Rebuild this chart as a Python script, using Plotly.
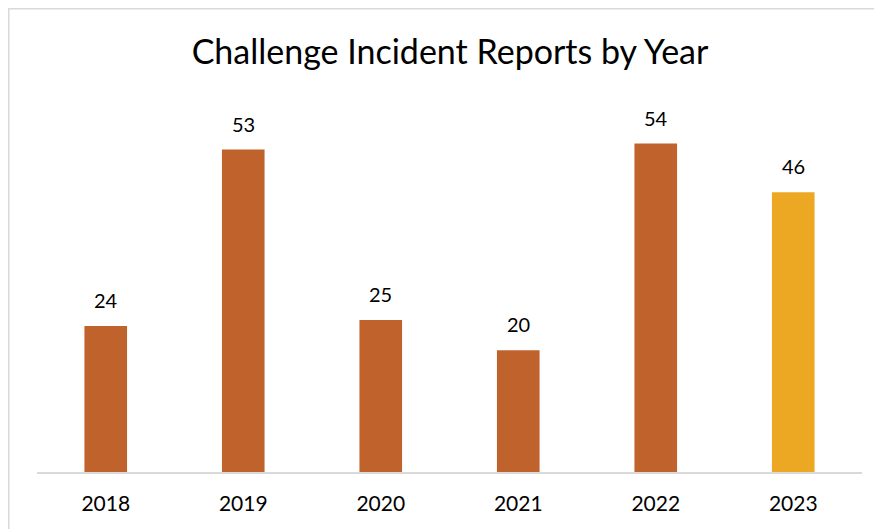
import plotly.graph_objects as go

years = ["2018", "2019", "2020", "2021", "2022", "2023"]
reports = [24, 53, 25, 20, 54, 46]
bar_colors = ["#C0622B", "#C0622B", "#C0622B", "#C0622B", "#C0622B", "#ECA823"]

# page body has an 8px default margin, so figure is 8px smaller
W, H = 874, 521
L, R, T, B = 29, 20, 99, 57
pw, ph = W - L - R, H - T - B
FONT = "Lato, Open Sans, sans-serif"

fig = go.Figure(go.Bar(
    x=years, y=reports,
    marker=dict(color=bar_colors, line=dict(width=0)),
    width=0.31,
    hoverinfo="x+y",
))

for i, v in enumerate(reports):
    fig.add_annotation(x=i, y=v, xref="x", yref="y", text=str(v), showarrow=False,
                       yanchor="middle", yshift=26,
                       font=dict(family=FONT, size=20, color="#000000"))

fig.update_layout(
    width=W, height=H,
    margin=dict(l=L, r=R, t=T, b=B),
    paper_bgcolor="white", plot_bgcolor="white",
    title=dict(text="Challenge Incident Reports by Year",
               x=442 / W, xanchor="center", y=1 - 44 / H, yanchor="middle",
               font=dict(family=FONT, size=34, color="#000000")),
    xaxis=dict(type="category", range=[-0.5, 5.5],
               showline=True, linecolor="#D9D9D9", linewidth=2, showgrid=False,
               ticks="", tickfont=dict(family=FONT, size=21, color="#000000"),
               ticklabelstandoff=12),
    yaxis=dict(range=[0, 60], visible=False, showgrid=False),
    showlegend=False,
    shapes=[dict(type="rect", xref="paper", yref="paper",
                 x0=(0.75 - L) / pw, x1=(W + 5 - L) / pw,
                 y0=(T + ph - (H + 5)) / ph, y1=(T + ph - 0.75) / ph,
                 line=dict(color="#D9D9D9", width=1.5), fillcolor="rgba(0,0,0,0)",
                 layer="below")],
)

fig.write_html("out.html")
